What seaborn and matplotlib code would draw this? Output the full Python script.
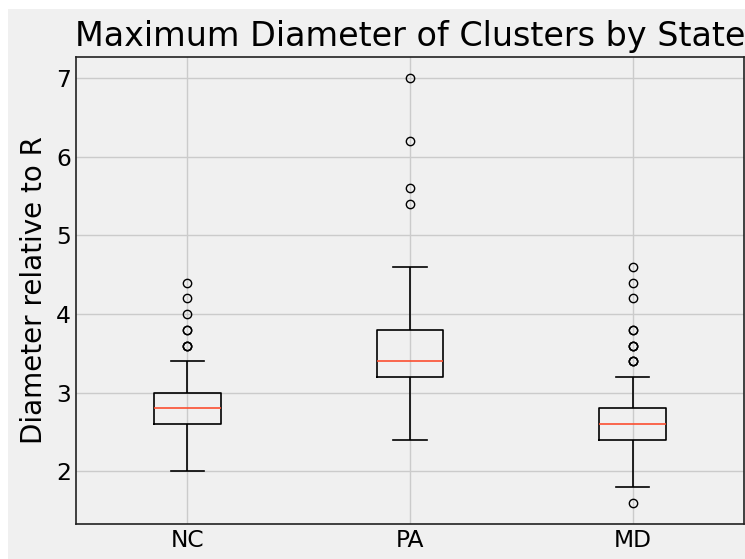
import numpy as np
import pandas as pd
import matplotlib
matplotlib.use("Agg")
import matplotlib.pyplot as plt
import seaborn as sns
from matplotlib.patches import Rectangle

# %% data: cluster diameters (relative to R) and how many clusters had each value
states = ["NC", "PA", "MD"]

nc_values = [2.0, 2.2, 2.4, 2.6, 2.8, 3.0, 3.2, 3.4, 3.6, 3.8, 4.0, 4.2, 4.4]
nc_counts = [3, 8, 15, 30, 35, 30, 12, 5, 3, 2, 1, 1, 1]

pa_values = [2.4, 2.6, 2.8, 3.0, 3.2, 3.4, 3.6, 3.8, 4.0, 4.2, 4.4, 4.6, 5.4, 5.6, 6.2, 7.0]
pa_counts = [1, 2, 3, 5, 10, 10, 8, 6, 4, 2, 1, 1, 1, 1, 1, 1]

md_values = [1.6, 1.8, 2.0, 2.2, 2.4, 2.6, 2.8, 3.0, 3.2, 3.4, 3.6, 3.8, 4.2, 4.4, 4.6]
md_counts = [1, 2, 6, 15, 30, 35, 30, 12, 5, 3, 3, 2, 1, 1, 1]

frames = []
for state, vals, cnts in zip(states, [nc_values, pa_values, md_values],
                             [nc_counts, pa_counts, md_counts]):
    frames.append(pd.DataFrame({"state": state, "diameter": np.repeat(vals, cnts)}))
df = pd.concat(frames, ignore_index=True)

# %% style (grey background, light grid, no tick marks)
plt.rcParams.update({
    "font.family": ["DejaVu Sans"],
    "font.size": 14,
    "axes.facecolor": "#f0f0f0",
    "axes.edgecolor": "#222222",
    "axes.linewidth": 1.2,
    "axes.grid": True,
    "axes.axisbelow": True,
    "grid.color": "#cbcbcb",
    "grid.linewidth": 1.0,
    "xtick.major.size": 0,
    "ytick.major.size": 0,
    "xtick.labelsize": 16.8,
    "ytick.labelsize": 16.8,
})

fig = plt.figure(figsize=(7.45, 5.59), dpi=100, facecolor="white")
fig.add_artist(Rectangle((8 / 745, 0), 1, 550 / 559, transform=fig.transFigure,
                         facecolor="#f0f0f0", edgecolor="none", zorder=-10))
ax = fig.add_axes([76 / 745, 35 / 559, 668 / 745, 467 / 559])

sns.boxplot(data=df, x="state", y="diameter", order=states, ax=ax,
            width=0.3, fill=False, color="black", linewidth=1.2, fliersize=6,
            medianprops={"color": "#fc4f30"},
            flierprops={"marker": "o", "markerfacecolor": "none",
                        "markeredgecolor": "black"})

ax.xaxis.grid(True)
ax.yaxis.grid(True)
ax.set_xlabel("")
ax.set_ylabel("Diameter relative to R", fontsize=20, labelpad=6)
ax.set_title("Maximum Diameter of Clusters by State", fontsize=24, pad=8)

fig.savefig("out.png", dpi=100)
